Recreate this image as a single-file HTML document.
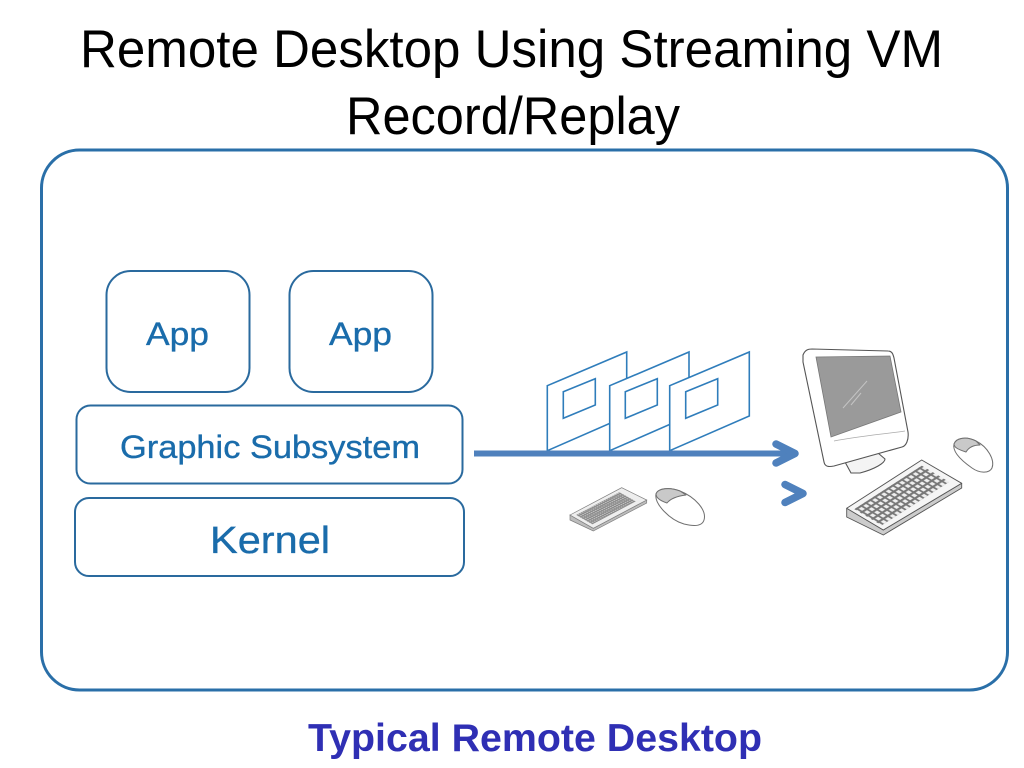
<!DOCTYPE html>
<html lang="en">
<head>
<meta charset="utf-8">
<title>Remote Desktop Using Streaming VM Record/Replay</title>
<style>
html,body{margin:0;padding:0;width:1024px;height:768px;background:#fff;overflow:hidden}
svg{display:block}
text{font-family:"Liberation Sans",sans-serif}
</style>
</head>
<body>
<svg width="1024" height="768" viewBox="0 0 1024 768" xmlns="http://www.w3.org/2000/svg">
<defs>
<pattern id="keys" width="6" height="6" patternUnits="userSpaceOnUse">
<rect width="6" height="6" fill="#777"/>
<rect x="1.2" y="1.2" width="3.8" height="3.8" fill="#efefef"/>
</pattern>
<pattern id="keysS" width="4" height="4" patternUnits="userSpaceOnUse">
<rect width="4" height="4" fill="#8a8a8a"/>
<rect x="1" y="1" width="2" height="2" fill="#d2d2d2"/>
</pattern>
</defs>

<!-- Title -->
<text x="80" y="67" font-size="53" textLength="863" lengthAdjust="spacingAndGlyphs" fill="#000">Remote Desktop Using Streaming VM</text>
<text x="346" y="134" font-size="53" textLength="334" lengthAdjust="spacingAndGlyphs" fill="#000">Record/Replay</text>

<!-- Outer box -->
<rect x="41.5" y="150" width="966" height="540" rx="38" fill="none" stroke="#2a6fa8" stroke-width="3"/>

<!-- Stack -->
<g fill="#fff" stroke="#2a6a9e" stroke-width="2">
<rect x="106.5" y="271" width="143" height="121" rx="24"/>
<rect x="289.5" y="271" width="143" height="121" rx="24"/>
<rect x="76.5" y="405.5" width="386" height="78" rx="14"/>
<rect x="75" y="498" width="389" height="78" rx="14"/>
</g>
<g fill="#1a6cab" stroke="#1a6cab" stroke-width=".35">
<text x="146" y="345" font-size="32" textLength="63" lengthAdjust="spacingAndGlyphs">App</text>
<text x="329" y="345" font-size="32" textLength="63" lengthAdjust="spacingAndGlyphs">App</text>
<text x="120" y="458" font-size="32" textLength="300" lengthAdjust="spacingAndGlyphs">Graphic Subsystem</text>
<text x="210" y="553" font-size="38" textLength="120" lengthAdjust="spacingAndGlyphs">Kernel</text>
</g>

<!-- Frames -->
<g fill="#fff" stroke="#2f7dbb" stroke-width="1.6" stroke-linejoin="miter">
<polygon points="547.3,385.7 626.7,352 626.7,416 547.3,450.7"/>
<polygon points="563.3,391.7 595.3,378.7 595.3,405 563.3,418.3"/>
<polygon points="609.7,385.7 689,352 689,416 609.7,450.7"/>
<polygon points="625.3,391.7 657.3,378.7 657.3,405 625.3,418.3"/>
<polygon points="669.7,385.7 749.3,352 749.3,416 669.7,450.7"/>
<polygon points="685.7,391.7 717.7,378.7 717.7,405 685.7,418.3"/>
</g>

<!-- Arrow -->
<g fill="none" stroke="#4f81bd" stroke-linecap="round" stroke-linejoin="round">
<line x1="474" y1="453.5" x2="794" y2="453.5" stroke-width="6" stroke-linecap="butt"/>
<polyline points="776,444 795,453.5 776,463" stroke-width="7.5"/>
<polyline points="785,484.5 803,493.5 785,502.5" stroke-width="7.5"/>
</g>

<!-- Small keyboard -->
<g stroke="#7f7f7f" stroke-width=".7">
<polygon points="570,515 570,520 593.3,531 646.7,503 646.7,500 593.3,528.3" fill="#bdbdbd"/>
<polygon points="570,515 621.7,487.7 646.7,500 593.3,528.3" fill="#eee"/>
</g>
<g transform="matrix(.517 -.273 .583 .333 570 515)">
<rect x="6" y="5" width="84" height="28" fill="url(#keysS)"/>
</g>

<!-- Small mouse -->
<g stroke="#6f6f6f" stroke-width="1" stroke-linejoin="round">
<path d="M656,494 C658,488 670,487 680,491 C695,497 707,510 704,520 C702,527 692,526 684,524 C670,520 654,504 656,494Z" fill="#fff"/>
<path d="M656,494 C658,488 670,487 680,491 L686,495 C678,496 671,498 667,503 C661,501 656,498 656,494Z" fill="#c9c9c9"/>
</g>

<!-- Monitor -->
<g stroke="#555" stroke-width="1.1" stroke-linejoin="round">
<path d="M845,462 L878,453 L885,459 C885,463 875,469 860,473 L851,473Z" fill="#f4f4f4"/>
<path d="M803,355 C805,350 808,349 812,349 L888,351 C892,351 893,354 894,358 L908,432 C909,440 906,446 902,447 L834,466 C829,467 825,467 824,462 L803,362Z" fill="#fff"/>
</g>
<polygon points="816,357 890,356 901,412 831,437" fill="#9a9a9a" stroke="#777" stroke-width=".8"/>
<g stroke="#c4c4c4" stroke-width="1" fill="none">
<line x1="843" y1="408" x2="867" y2="381"/>
<line x1="851" y1="405" x2="861" y2="393"/>
</g>
<path d="M834,441 C860,436 885,434 905,431" fill="none" stroke="#aaa" stroke-width=".8"/>

<!-- Big keyboard -->
<g stroke="#555" stroke-width=".9" stroke-linejoin="round">
<polygon points="846.7,508.3 846.7,517 883.3,535 961.7,488 961.7,483.3 883.3,530" fill="#ccc"/>
<polygon points="846.7,508.3 921.7,460 961.7,483.3 883.3,530" fill="#f5f5f5"/>
</g>
<g transform="matrix(.75 -.483 .915 .5425 846.7 508.3)">
<rect x="4" y="5" width="90" height="30" fill="url(#keys)"/>
</g>

<!-- Big mouse -->
<g stroke="#6f6f6f" stroke-width="1" stroke-linejoin="round">
<path d="M954,444 C956,438 966,436 976,441 C988,447 995,460 992,468 C989,474 979,473 972,468 C962,461 952,452 954,444Z" fill="#fff"/>
<path d="M954,444 C956,438 966,436 976,441 L980,445 C974,445 969,447 966,452 C960,450 954,448 954,444Z" fill="#c9c9c9"/>
</g>

<!-- Caption -->
<text x="308" y="751" font-size="39" font-weight="bold" textLength="454" lengthAdjust="spacingAndGlyphs" fill="#2f2fb4">Typical Remote Desktop</text>
</svg>
</body>
</html>
